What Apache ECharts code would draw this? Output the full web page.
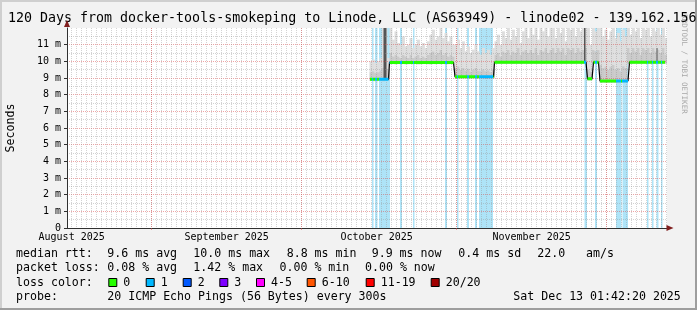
<!DOCTYPE html>
<html>
<head>
<meta charset="utf-8">
<script src="https://cdn.jsdelivr.net/npm/echarts@6.0.0/dist/echarts.min.js"></script>
<style>
html,body{margin:0;padding:0;background:#f2f2f2;overflow:hidden}
#chart{width:697px;height:310px}
</style>
</head>
<body>
<div id="chart"></div>
<script>
// ================= DATA =================
const titleText = '120 Days from docker-tools-smokeping to Linode, LLC (AS63949) - linode02 - 139.162.156';
const watermarkText = 'RRDTOOL / TOBI OETIKER';
const yAxisName = 'Seconds';
const windowStart = '2025-08-15T01:42:20Z';
const windowDays = 120;
const monthStarts = ['2025-09-01', '2025-10-01', '2025-11-01', '2025-12-01'];
const monthLabelDates = ['2025-08-16', '2025-09-16', '2025-10-16', '2025-11-16'];
const monthLabels = ['August 2025', 'September 2025', 'October 2025', 'November 2025'];
const yMin = 0, yMax = 12; // milliseconds

// median rtt segments: [startDay, endDay, ms]   (days since window start)
const medianSegments = [
  [60.6, 64.3, 8.92],
  [64.5, 77.3, 9.93],
  [77.6, 85.3, 9.08],
  [85.5, 103.8, 9.95],
  [104.1, 105.0, 8.95],
  [105.3, 106.3, 9.95],
  [106.6, 112.2, 8.82],
  [112.5, 119.6, 9.95]
];

// smoke columns, one per half day starting at day 60.5
const smokeStartDay = 60.5;
const smokeStepDays = 0.5;
const smokeLo = [
  8.82, 8.85, 8.80, 8.84, 8.82, 8.80, 8.83, 8.85,
  9.83, 9.84, 9.82, 9.85, 9.83, 9.84, 9.82, 9.83, 9.85, 9.83, 9.84, 9.82, 9.83,
  9.85, 9.84, 9.83, 9.82, 9.84, 9.83, 9.85, 9.83, 9.84, 9.82, 9.83, 9.84, 9.83,
  8.98, 8.99, 8.97, 8.98, 9.00, 8.98, 8.97, 8.99, 8.98, 8.97, 8.99, 8.98, 8.97, 8.98, 8.99, 8.98,
  9.85, 9.84, 9.86, 9.85, 9.84, 9.85, 9.86, 9.84, 9.85, 9.85, 9.84, 9.86, 9.85, 9.84, 9.85,
  9.86, 9.84, 9.85, 9.85, 9.84, 9.86, 9.85, 9.84, 9.85, 9.86, 9.84, 9.85, 9.85, 9.84,
  9.86, 9.85, 9.84, 9.85, 9.86, 9.84, 9.85, 9.85,
  8.85, 8.86,
  9.85, 9.84, 9.85,
  8.72, 8.73, 8.71, 8.72, 8.73, 8.72, 8.71, 8.72, 8.73, 8.72, 8.72,
  9.85, 9.84, 9.85, 9.86, 9.84, 9.85, 9.85, 9.84, 9.86, 9.85, 9.84, 9.85, 9.85, 9.84, 9.86, 9.85
];
const smokeMid = [
  9.35, 9.40, 9.30, 9.35, 9.45, 9.60, 9.60, 9.50,
  10.5, 10.3, 10.4, 10.3, 10.2, 10.4, 10.3, 10.2, 10.4, 10.2, 10.3, 10.4, 10.2,
  10.3, 10.2, 10.4, 10.5, 10.6, 10.4, 10.5, 10.7, 10.4, 10.5, 10.3, 10.4, 10.3,
  9.60, 9.70, 9.50, 9.60, 9.45, 9.55, 9.40, 9.50, 9.60, 9.45, 9.40, 9.50, 9.40, 9.45, 9.35, 9.50,
  10.4, 10.5, 10.3, 10.6, 10.5, 10.7, 10.4, 10.6, 10.5, 10.8, 10.4, 10.6, 10.7, 10.5, 10.7,
  10.5, 10.8, 10.4, 10.7, 10.6, 10.8, 10.5, 10.7, 10.8, 10.5, 10.8, 10.6, 10.8, 10.4,
  10.8, 10.7, 10.8, 10.5, 10.8, 10.6, 10.7, 10.8,
  9.50, 9.40,
  10.7, 10.6, 10.7,
  9.80, 9.60, 9.70, 9.50, 9.70, 9.80, 9.50, 9.60, 9.40, 9.70, 9.60,
  10.8, 10.5, 10.8, 10.6, 10.8, 10.4, 10.8, 10.7, 10.8, 10.5, 10.8, 10.6, 10.7, 10.5, 10.8, 10.4
];
const smokeHi = [
  10.0, 10.1, 9.9, 10.0, 10.2, 12.3, 12.3, 10.2,
  12.0, 11.3, 11.8, 11.1, 11.0, 11.5, 10.9, 11.0, 11.4, 10.8, 11.0, 11.3, 10.9,
  11.1, 10.8, 11.2, 11.6, 11.9, 11.3, 11.5, 12.0, 11.4, 11.7, 11.2, 11.5, 11.0,
  11.0, 11.3, 10.8, 11.2, 10.6, 10.9, 10.5, 10.7, 11.0, 10.6, 10.4, 10.8, 10.5, 10.7, 10.4, 10.8,
  11.2, 11.6, 11.0, 11.8, 11.4, 12.2, 11.3, 11.9, 11.5, 12.2, 11.1, 11.8, 12.2, 11.4, 12.0,
  11.6, 12.2, 11.3, 12.2, 11.8, 12.2, 11.5, 12.2, 12.0, 11.4, 12.2, 11.7, 12.2, 11.2,
  12.2, 11.9, 12.2, 11.5, 12.2, 11.8, 12.0, 12.2,
  12.2, 11.0,
  12.2, 11.8, 12.2,
  12.2, 11.5, 11.9, 11.3, 11.8, 12.2, 11.4, 11.7, 11.2, 11.9, 11.5,
  12.2, 11.6, 12.2, 11.8, 12.2, 11.4, 12.2, 11.9, 12.2, 11.5, 12.2, 11.8, 12.1, 11.6, 12.2, 11.4
];

// dark spread columns: [startDay, endDay, loMs, hiMs]
const darkSpikes = [
  [63.3, 63.9, 8.9, 12.3],
  [103.4, 103.7, 9.9, 12.3],
  [117.9, 118.1, 9.9, 10.8]
];

// periods with packet loss (1 of 20): [startDay, endDay]
const lossBands = [
  [61.0, 61.3], [61.6, 62.1], [62.4, 64.6], [66.6, 67.0], [69.2, 69.5],
  [75.6, 76.0], [78.0, 78.3], [80.0, 80.4], [81.6, 82.0], [82.4, 85.2],
  [103.5, 104.0], [105.6, 106.0], [109.8, 110.9], [111.1, 112.2],
  [116.0, 116.3], [117.0, 117.3], [117.9, 118.3], [118.8, 119.1]
];

// legend / statistics text
const rowLabels = ['median rtt:', 'packet loss:', 'loss color:', 'probe:'];
const rttStats = ['9.6 ms avg', '10.0 ms max', '8.8 ms min', '9.9 ms now', '0.4 ms sd', '22.0', 'am/s'];
const lossStats = ['0.08 % avg', '1.42 % max', '0.00 % min', '0.00 % now'];
const lossColorLabels = ['0', '1', '2', '3', '4-5', '6-10', '11-19', '20/20'];
const lossColors = ['#26ff00', '#00b8ff', '#0059ff', '#7e00ff', '#ff00fe', '#ff5500', '#ff0000', '#a10000'];
const probeText = '20 ICMP Echo Pings (56 Bytes) every 300s';
const dateText = 'Sat Dec 13 01:42:20 2025';

// ================= STYLE / LAYOUT =================
const FONT = '"DejaVu Sans Mono", monospace';
const LOSS_BG = '#aee4f8';
const SMOKE_DARK = '#cacaca';
const SMOKE_LIGHT = '#dedede';
const GRID_MINOR = 'rgba(150,150,150,0.42)';
const GRID_MAJOR = 'rgba(222,79,79,0.5)';
const AXIS_COLOR = '#303030';
const ARROW_COLOR = '#801f1f';

const startMs = Date.parse(windowStart);
const dayOf = s => (Date.parse(s.length === 10 ? s + 'T00:00:00Z' : s) - startMs) / 86400000;
const monthStartDays = monthStarts.map(dayOf);
const monthLabelDays = monthLabelDates.map(dayOf);
const dailyGrid = [];
for (let d = dayOf('2025-08-16'); d < windowDays; d += 1) dailyGrid.push(d);

const smokeData = smokeHi.map((hi, i) => [smokeStartDay + i * smokeStepDays, smokeLo[i], smokeMid[i], hi]);
const riserData = [];
const medianData = [];
medianSegments.forEach(([s, e, v]) => {
  riserData.push([s, v], [e, v]);
  medianData.push([s, v], [e, v], [e, '-']);
});

const chart = echarts.init(document.getElementById('chart'), null, {renderer: 'canvas', width: 697, height: 310});

function rectItem(p0, p1, fill) {
  return {type: 'rect', shape: {x: p0[0], y: p1[1], width: Math.max(p1[0] - p0[0], 1), height: p0[1] - p1[1]}, style: {fill}};
}

const legendX = [107.3, 193.3, 286.7, 371.7, 458.3, 537.3, 586];
const lossX = [107.3, 193.3, 279.5, 365];
const boxX = [108.3, 145.7, 182.7, 219.3, 256, 306.7, 365.7, 430.7];
const rowY = [254, 268, 282.5, 296.5];

const graphics = [
  {type: 'rect', shape: {x: 0, y: 0, width: 697, height: 2}, style: {fill: '#cfcfcf'}, silent: true},
  {type: 'rect', shape: {x: 0, y: 0, width: 2, height: 310}, style: {fill: '#cfcfcf'}, silent: true},
  {type: 'rect', shape: {x: 0, y: 308, width: 697, height: 2}, style: {fill: '#9e9e9e'}, silent: true},
  {type: 'rect', shape: {x: 695, y: 0, width: 2, height: 310}, style: {fill: '#9e9e9e'}, silent: true},
  {type: 'text', x: 684, y: 64, rotation: -Math.PI / 2, silent: true,
   style: {text: watermarkText, fontFamily: FONT, fontSize: 7.5, fill: '#a8a8a8', align: 'center', verticalAlign: 'middle'}},
  {type: 'text', x: 8, y: 19, silent: true,
   style: {text: titleText, fontFamily: FONT, fontSize: 13.3, fill: '#000', align: 'left', verticalAlign: 'middle'}},
  {type: 'text', x: 11, y: 128, rotation: Math.PI / 2, silent: true,
   style: {text: yAxisName, fontFamily: FONT, fontSize: 11.6, fill: '#000', align: 'center', verticalAlign: 'middle'}}
];
rowLabels.forEach((t, i) => graphics.push({type: 'text', x: 16, y: rowY[i], silent: true,
  style: {text: t, fontFamily: FONT, fontSize: 11.6, fill: '#000', align: 'left', verticalAlign: 'middle'}}));
rttStats.forEach((t, i) => graphics.push({type: 'text', x: legendX[i], y: rowY[0], silent: true,
  style: {text: t, fontFamily: FONT, fontSize: 11.6, fill: '#000', align: 'left', verticalAlign: 'middle'}}));
lossStats.forEach((t, i) => graphics.push({type: 'text', x: lossX[i], y: rowY[1], silent: true,
  style: {text: t, fontFamily: FONT, fontSize: 11.6, fill: '#000', align: 'left', verticalAlign: 'middle'}}));
lossColorLabels.forEach((t, i) => {
  graphics.push({type: 'rect', silent: true, shape: {x: boxX[i] + 0.5, y: 278.5, width: 8, height: 8},
    style: {fill: lossColors[i], stroke: '#000', lineWidth: 1}});
  graphics.push({type: 'text', x: boxX[i] + 15, y: rowY[2], silent: true,
    style: {text: t, fontFamily: FONT, fontSize: 11.6, fill: '#000', align: 'left', verticalAlign: 'middle'}});
});
graphics.push({type: 'text', x: 107.3, y: rowY[3], silent: true,
  style: {text: probeText, fontFamily: FONT, fontSize: 11.6, fill: '#000', align: 'left', verticalAlign: 'middle'}});
graphics.push({type: 'text', x: 513.3, y: rowY[3], silent: true,
  style: {text: dateText, fontFamily: FONT, fontSize: 11.6, fill: '#000', align: 'left', verticalAlign: 'middle'}});

const option = {
  animation: false,
  backgroundColor: '#f2f2f2',
  grid: {left: 67, top: 28, width: 600, height: 200, show: true, backgroundColor: '#ffffff', borderWidth: 0},
  graphic: graphics,
  xAxis: [
    {
      type: 'value', position: 'bottom', min: 0, max: windowDays, z: 3,
      axisLine: {show: true, onZero: false, lineStyle: {color: AXIS_COLOR, width: 1}},
      axisTick: {show: false, customValues: dailyGrid},
      axisLabel: {
        customValues: monthLabelDays, margin: 4, fontFamily: FONT, fontSize: 10, color: '#000',
        formatter: v => {
          const i = monthLabelDays.findIndex(d => Math.abs(d - v) < 1e-6);
          return i >= 0 ? monthLabels[i] : '';
        }
      },
      splitLine: {show: true, lineStyle: {color: GRID_MINOR, width: 1, type: [1, 1]}}
    },
    {
      type: 'value', position: 'bottom', min: 0, max: windowDays, z: 3,
      axisLine: {show: true, onZero: false, symbol: ['none', 'triangle'], symbolSize: [6, 7], symbolOffset: [0, 3],
                 lineStyle: {color: ARROW_COLOR, width: 0}},
      axisTick: {show: true, length: 2, customValues: monthStartDays, lineStyle: {color: GRID_MAJOR}},
      axisLabel: {show: false},
      splitLine: {show: true, lineStyle: {color: GRID_MAJOR, width: 1, type: [1, 1]}}
    }
  ],
  yAxis: [
    {
      type: 'value', position: 'left', min: yMin, max: yMax, interval: 1, z: 3,
      axisLine: {show: true, onZero: false, lineStyle: {color: AXIS_COLOR, width: 1}},
      axisTick: {show: true, length: 3, lineStyle: {color: AXIS_COLOR}},
      axisLabel: {margin: 6, fontFamily: FONT, fontSize: 10, color: '#000', showMaxLabel: false,
                  formatter: v => (v === 0 ? '0' : v + ' m')},
      splitLine: {show: true, showMaxLine: false, lineStyle: {color: GRID_MAJOR, width: 1, type: [1, 1]}},
      minorTick: {show: false, splitNumber: 2},
      minorSplitLine: {show: true, lineStyle: {color: GRID_MINOR, width: 1, type: [1, 1]}}
    },
    {
      type: 'value', position: 'left', min: yMin, max: yMax, z: 3,
      axisLine: {show: true, onZero: false, symbol: ['none', 'triangle'], symbolSize: [6, 7], symbolOffset: [0, 4.5],
                 lineStyle: {color: ARROW_COLOR, width: 0}},
      axisTick: {show: false}, axisLabel: {show: false}, splitLine: {show: false}
    }
  ],
  visualMap: {
    show: false, type: 'piecewise', dimension: 0, seriesIndex: 4,
    pieces: lossBands.map(([s, e]) => ({gte: s, lte: e, color: lossColors[1]})),
    outOfRange: {color: lossColors[0]}
  },
  series: [
    {
      type: 'custom', name: 'loss', z: 1, clip: true, silent: true,
      data: lossBands,
      encode: {x: [0, 1]},
      renderItem: (params, api) => {
        const p0 = api.coord([api.value(0), yMin]);
        const p1 = api.coord([api.value(1), yMax]);
        return rectItem(p0, p1, LOSS_BG);
      }
    },
    {
      type: 'custom', name: 'smoke', z: 1, clip: true, silent: true,
      data: smokeData,
      encode: {x: [0], y: [1, 2, 3]},
      renderItem: (params, api) => {
        const d = api.value(0);
        const a = api.coord([d, api.value(1)]);
        const b = api.coord([d + smokeStepDays, api.value(2)]);
        const c = api.coord([d + smokeStepDays, api.value(3)]);
        const w = b[0] - a[0] + 0.4;
        return {type: 'group', children: [
          {type: 'rect', shape: {x: a[0], y: c[1], width: w, height: b[1] - c[1]}, style: {fill: SMOKE_LIGHT}},
          {type: 'rect', shape: {x: a[0], y: b[1], width: w, height: a[1] - b[1]}, style: {fill: SMOKE_DARK}}
        ]};
      }
    },
    {
      type: 'custom', name: 'spread', z: 1, clip: true, silent: true,
      data: darkSpikes,
      encode: {x: [0, 1], y: [2, 3]},
      renderItem: (params, api) => {
        const p0 = api.coord([api.value(0), api.value(2)]);
        const p1 = api.coord([api.value(1), api.value(3)]);
        return rectItem(p0, p1, '#555555');
      }
    },
    {
      type: 'line', name: 'risers', z: 4, silent: true, showSymbol: false,
      data: riserData,
      lineStyle: {color: '#000', width: 1.2}
    },
    {
      type: 'line', name: 'median rtt', z: 5, silent: true, showSymbol: false, connectNulls: false,
      data: medianData,
      lineStyle: {width: 3}
    }
  ]
};
chart.setOption(option);
</script>
</body>
</html>
